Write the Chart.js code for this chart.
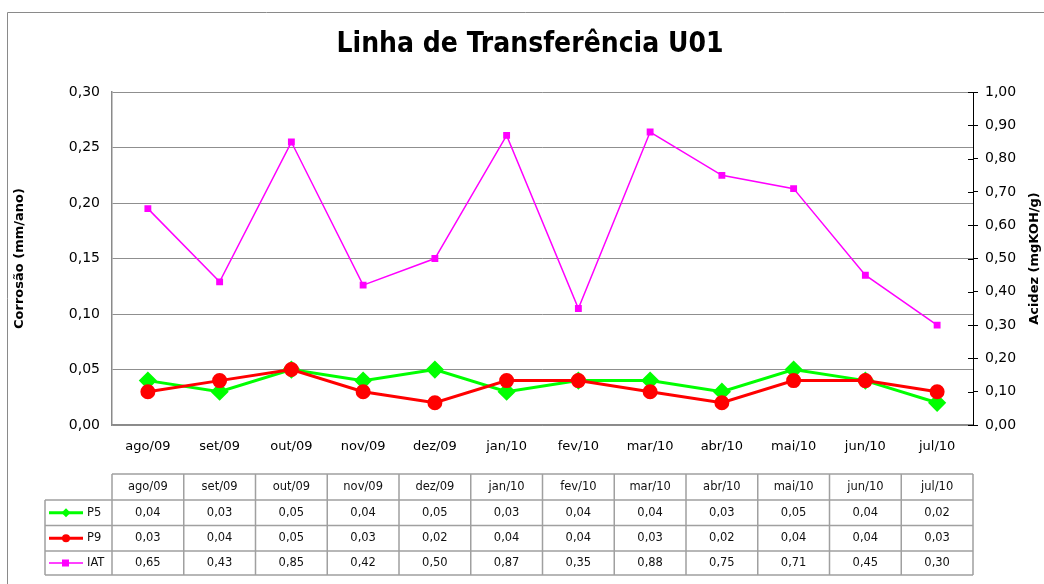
<!DOCTYPE html>
<html>
<head>
<meta charset="utf-8">
<script src="https://cdn.jsdelivr.net/npm/chart.js@4.4.1/dist/chart.umd.min.js"></script>
<style>
html,body{margin:0;padding:0;background:#fff;}
#wrap{width:1044px;height:584px;position:relative;}
</style>
</head>
<body>
<div id="wrap"><canvas id="c" width="1044" height="584"></canvas></div>
<script>
const categories = ['ago/09','set/09','out/09','nov/09','dez/09','jan/10','fev/10','mar/10','abr/10','mai/10','jun/10','jul/10'];
const p5 = [0.04,0.03,0.05,0.04,0.05,0.03,0.04,0.04,0.03,0.05,0.04,0.02];
const p9 = [0.03,0.04,0.05,0.03,0.02,0.04,0.04,0.03,0.02,0.04,0.04,0.03];
const iat = [0.65,0.43,0.85,0.42,0.50,0.87,0.35,0.88,0.75,0.71,0.45,0.30];
const seriesNames = ['P5','P9','IAT'];
const titleText = 'Linha de Transferência U01';
const leftTitle = 'Corrosão (mm/ano)';
const rightTitle = 'Acidez (mgKOH/g)';

const FONT = "'DejaVu Sans', 'Liberation Sans', sans-serif";
const fmt = v => Number(v).toFixed(2).replace('.', ',');

const decor = {
  id: 'decor',
  beforeDraw(chart) {
    const ctx = chart.ctx;
    ctx.save();
    ctx.strokeStyle = '#8a8a8a';
    ctx.lineWidth = 1;
    ctx.beginPath();
    ctx.moveTo(7.5, 584);
    ctx.lineTo(7.5, 12.5);
    ctx.lineTo(1044, 12.5);
    ctx.stroke();
    ctx.restore();
  },
  afterDraw(chart) {
    const ctx = chart.ctx;
    const ca = chart.chartArea;
    const y2 = chart.scales.y2;
    const x = chart.scales.x;
    ctx.save();
    // inner ticks on right axis
    ctx.strokeStyle = '#000';
    ctx.lineWidth = 1;
    ctx.beginPath();
    for (let i = 0; i < y2.ticks.length; i++) {
      const py = Math.round(y2.getPixelForTick(i)) + 0.5;
      ctx.moveTo(ca.right - 5, py);
      ctx.lineTo(ca.right, py);
    }
    ctx.stroke();
    // right axis title (reads bottom-to-top)
    ctx.save();
    ctx.translate(1035, (ca.top + ca.bottom) / 2);
    ctx.rotate(-Math.PI / 2);
    ctx.font = "bold 13px " + FONT;
    ctx.fillStyle = '#000';
    ctx.textAlign = 'center';
    ctx.textBaseline = 'middle';
    ctx.fillText(rightTitle, 0, 0);
    ctx.restore();

    // data table
    const rowsY = [474, 500, 525.5, 551, 575];
    const legendLeft = 45;
    const n = categories.length;
    const step = (ca.right - ca.left) / n;
    ctx.strokeStyle = '#a0a0a0';
    ctx.lineWidth = 1.5;
    ctx.beginPath();
    ctx.moveTo(ca.left, rowsY[0]); ctx.lineTo(ca.right, rowsY[0]);
    for (let r = 1; r < rowsY.length; r++) {
      ctx.moveTo(legendLeft, rowsY[r]); ctx.lineTo(ca.right, rowsY[r]);
    }
    ctx.moveTo(legendLeft, rowsY[1]); ctx.lineTo(legendLeft, rowsY[4]);
    for (let i = 0; i <= n; i++) {
      const px = ca.left + i * step;
      ctx.moveTo(px, rowsY[0]); ctx.lineTo(px, rowsY[4]);
    }
    ctx.stroke();

    ctx.fillStyle = '#111';
    ctx.font = "11.5px " + FONT;
    ctx.textAlign = 'center';
    ctx.textBaseline = 'middle';
    const rowsData = [p5, p9, iat];
    for (let i = 0; i < n; i++) {
      const cx = x.getPixelForValue(i);
      ctx.fillText(categories[i], cx, (rowsY[0] + rowsY[1]) / 2);
      for (let r = 0; r < 3; r++) {
        ctx.fillText(fmt(rowsData[r][i]), cx, (rowsY[r + 1] + rowsY[r + 2]) / 2);
      }
    }
    // legend keys
    const ds = chart.data.datasets;
    for (let r = 0; r < 3; r++) {
      const d = ds.find(dd => dd.label === seriesNames[r]);
      const cy = (rowsY[r + 1] + rowsY[r + 2]) / 2;
      ctx.strokeStyle = d.borderColor;
      ctx.lineWidth = d.borderWidth;
      ctx.beginPath();
      ctx.moveTo(49, cy); ctx.lineTo(83, cy);
      ctx.stroke();
      ctx.fillStyle = d.borderColor;
      if (d.pointStyle === 'rect') {
        ctx.fillRect(62, cy - 3.5, 7, 7);
      } else if (d.pointStyle === 'circle') {
        ctx.beginPath(); ctx.arc(66, cy, 4, 0, Math.PI * 2); ctx.fill();
      } else {
        ctx.beginPath(); ctx.moveTo(66, cy - 4.5); ctx.lineTo(70.5, cy); ctx.lineTo(66, cy + 4.5); ctx.lineTo(61.5, cy); ctx.closePath(); ctx.fill();
      }
      ctx.fillStyle = '#111';
      ctx.textAlign = 'left';
      ctx.font = "11.5px " + FONT;
      ctx.fillText(seriesNames[r], 87, cy);
      ctx.textAlign = 'center';
    }
    ctx.restore();
  }
};

new Chart(document.getElementById('c'), {
  type: 'line',
  data: {
    labels: categories,
    datasets: [
      { label: seriesNames[1], data: p9, yAxisID: 'y', borderColor: '#ff0000', backgroundColor: '#ff0000',
        borderWidth: 3, pointStyle: 'circle', pointRadius: 6, pointHoverRadius: 6, tension: 0, order: 0 },
      { label: seriesNames[0], data: p5, yAxisID: 'y', borderColor: '#00ff00', backgroundColor: '#00ff00',
        borderWidth: 3, pointStyle: 'rectRot', pointRadius: 7, pointHoverRadius: 7, tension: 0, order: 1 },
      { label: seriesNames[2], data: iat, yAxisID: 'y2', borderColor: '#ff00ff', backgroundColor: '#ff00ff',
        borderWidth: 1.5, pointStyle: 'rect', pointRadius: 3.8, pointHoverRadius: 3.8, tension: 0, order: 2 }
    ]
  },
  options: {
    responsive: false,
    animation: false,
    devicePixelRatio: 1,
    layout: { padding: { left: 16, right: 0, top: 0, bottom: 0 } },
    plugins: {
      legend: { display: false },
      tooltip: { enabled: false },
      title: {
        display: true, text: titleText, color: '#000',
        font: { family: "'Liberation Sans Narrow', 'DejaVu Sans Condensed', 'Liberation Sans', sans-serif", size: 28, weight: 'bold', lineHeight: 1.2 },
        padding: { top: 28, bottom: 30.5 }
      }
    },
    scales: {
      x: {
        type: 'category', offset: true,
        grid: { display: false, drawTicks: false },
        border: { display: true, color: '#8a8a8a', width: 1.5 },
        ticks: { color: '#000', font: { family: FONT, size: 13 }, padding: 14, maxRotation: 0, autoSkip: false },
        afterFit(s) { s.height = 584 - 425; }
      },
      y: {
        position: 'left', min: 0, max: 0.3,
        grid: { color: '#8f8f8f', lineWidth: 1, drawTicks: false },
        border: { display: true, color: '#8a8a8a', width: 1.5 },
        ticks: { stepSize: 0.05, color: '#000', font: { family: FONT, size: 14 }, padding: 12, callback: v => fmt(v) },
        title: { display: true, text: leftTitle, color: '#000', font: { family: FONT, size: 13, weight: 'bold' }, padding: { top: -4, bottom: 0 } },
        afterFit(s) { s.width = 112 - 16; }
      },
      y2: {
        position: 'right', min: 0, max: 1,
        grid: { drawOnChartArea: false, drawTicks: true, tickLength: 5, tickColor: '#000', color: '#000' },
        border: { display: true, color: '#000', width: 1 },
        ticks: { stepSize: 0.1, color: '#000', font: { family: FONT, size: 14 }, padding: 7, callback: v => fmt(v) },
        afterFit(s) { s.width = 1044 - 973; }
      }
    }
  },
  plugins: [decor]
});
</script>
</body>
</html>
